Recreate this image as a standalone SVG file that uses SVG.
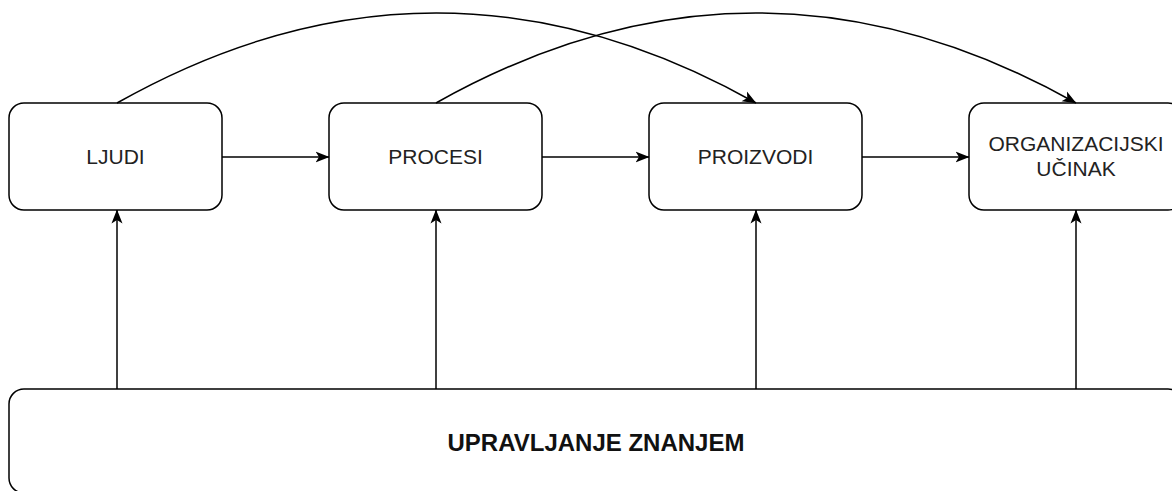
<svg xmlns="http://www.w3.org/2000/svg" width="1172" height="491" viewBox="0 0 1172 491">
<style>
.box{fill:#fff;stroke:#000;stroke-width:1.5}
.lbl{font-family:"Liberation Sans",Arial,sans-serif;font-size:21px;fill:#222;text-anchor:middle}
.big{font-family:"Liberation Sans",Arial,sans-serif;font-size:24px;font-weight:bold;fill:#111;text-anchor:middle}
.edge{fill:none;stroke:#000;stroke-width:1.5;marker-end:url(#arr)}
</style>
<defs>
<marker id="arr" markerUnits="userSpaceOnUse" markerWidth="14" markerHeight="14" viewBox="0 0 14 14" refX="13.5" refY="7" orient="auto">
<path d="M0,1.5 L14,7 L0,12.5 L3.5,7 Z" fill="#000"/>
</marker>
</defs>
<rect width="1172" height="491" fill="#fff"/>
<g id="ljudi"><rect class="box" x="9" y="103" width="213" height="107" rx="15"/><text class="lbl" x="115.5" y="164">LJUDI</text></g>
<g id="procesi"><rect class="box" x="329" y="103" width="213" height="107" rx="15"/><text class="lbl" x="435.5" y="164">PROCESI</text></g>
<g id="proizvodi"><rect class="box" x="649" y="103" width="213" height="107" rx="15"/><text class="lbl" x="755.5" y="164">PROIZVODI</text></g>
<g id="ucinak"><rect class="box" x="969" y="103" width="214" height="107" rx="15"/><text class="lbl" x="1076" y="151">ORGANIZACIJSKI</text><text class="lbl" x="1076" y="176">UČINAK</text></g>
<g id="upravljanje"><rect class="box" x="9" y="389" width="1174" height="104" rx="15"/><text class="big" x="596" y="451">UPRAVLJANJE ZNANJEM</text></g>
<g id="connectors">
<path class="edge" d="M222,157 H329"/>
<path class="edge" d="M542,157 H649"/>
<path class="edge" d="M862,157 H969"/>
<path class="edge" d="M117,389 V210"/>
<path class="edge" d="M436,389 V210"/>
<path class="edge" d="M756,389 V210"/>
<path class="edge" d="M1076,389 V210"/>
<path class="edge" d="M117,103 Q436,-77 756,103"/>
<path class="edge" d="M436,103 Q756,-77 1076,103"/>
</g>
</svg>
